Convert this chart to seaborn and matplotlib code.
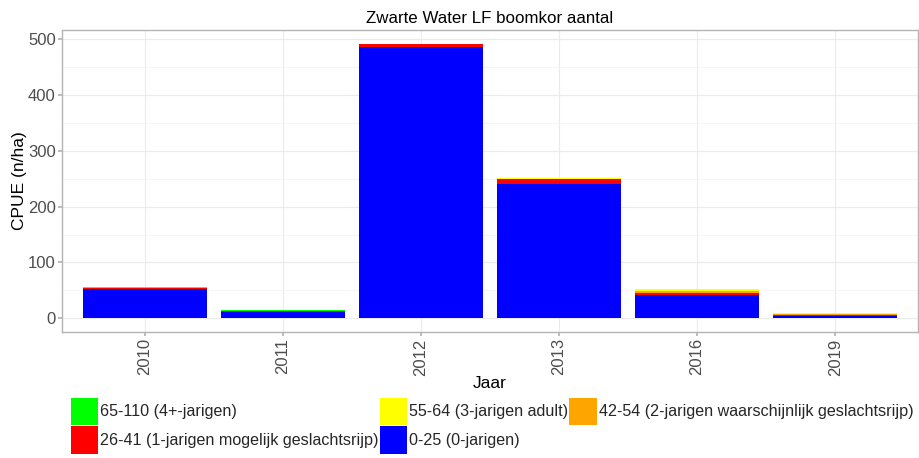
import matplotlib
matplotlib.use("Agg")
import matplotlib.pyplot as plt
import seaborn as sns
import pandas as pd
import numpy as np
from matplotlib.patches import Patch

years = ['2010', '2011', '2012', '2013', '2016', '2019']
len_0_25 = [53, 11, 486, 241, 42, 4]
len_26_41 = [1.5, 2.3, 5, 8, 3, 1.5]
len_42_54 = [1.5, 0, 0.5, 0, 4, 2]
len_55_64 = [0, 0, 0, 1.5, 3, 1.5]
len_65_110 = [0, 1, 0, 0, 0, 0]

classes = ['0-25 (0-jarigen)',
           '26-41 (1-jarigen mogelijk geslachtsrijp)',
           '42-54 (2-jarigen waarschijnlijk geslachtsrijp)',
           '55-64 (3-jarigen adult)',
           '65-110 (4+-jarigen)']
colors = ['#0000FF', '#FF0000', '#FFA500', '#FFFF00', '#00FF00']
series = [len_0_25, len_26_41, len_42_54, len_55_64, len_65_110]

sns.set_theme(style="white")
plt.rcParams['font.family'] = ['Liberation Sans', 'DejaVu Sans']

fig = plt.figure(figsize=(9.19, 4.58), dpi=100)
ax = fig.add_axes([62/919, 1-332/458, (918-62)/919, (332-30)/458])

cum = np.cumsum(np.array(series, dtype=float), axis=0)
# draw from top layer down so lower layers overlay
for i in range(len(series)-1, -1, -1):
    df = pd.DataFrame({'Jaar': years, 'CPUE': cum[i]})
    sns.barplot(data=df, x='Jaar', y='CPUE', order=years, color=colors[i],
                saturation=1, width=0.9, ax=ax, linewidth=0, zorder=3)

ax.set_xlim(-0.6, 5.6)
ax.set_ylim(-24.6, 516.6)
ax.set_yticks([0, 100, 200, 300, 400, 500])
ax.set_yticks([50, 150, 250, 350, 450], minor=True)

ax.grid(True, which='major', color='#EBEBEB', linewidth=0.8, zorder=0)
ax.grid(True, which='minor', axis='y', color='#F3F3F3', linewidth=0.5, zorder=0)
ax.set_axisbelow(True)
for s in ax.spines.values():
    s.set_color('#B3B3B3')
    s.set_linewidth(1.0)

ax.tick_params(axis='both', which='major', length=3, color='#B3B3B3',
               labelsize=12, labelcolor='#4D4D4D', pad=1.5, left=True, bottom=True)
ax.tick_params(axis='y', which='minor', length=0)
ax.tick_params(axis='x', labelrotation=90)

ax.set_xlabel('Jaar', fontsize=12.5, color='black', labelpad=0)
ax.set_ylabel('CPUE (n/ha)', fontsize=12.5, color='black')
ax.yaxis.set_label_coords(-0.041, 0.5)
ax.set_title('Zwarte Water LF boomkor aantal', fontsize=12.2, color='black', pad=5)

order = [4, 1, 3, 0, 2]
handles = [Patch(facecolor=colors[i], edgecolor='none') for i in order]
labels = [classes[i] for i in order]
fig.legend(handles, labels, ncol=3, loc='lower center', bbox_to_anchor=(492/919, -0.012),
           frameon=False, fontsize=11.6, handlelength=1.72, handleheight=2.27,
           handletextpad=0.12, columnspacing=0.05, labelspacing=0.05, borderpad=0.1)

fig.savefig('out.png', dpi=100)
